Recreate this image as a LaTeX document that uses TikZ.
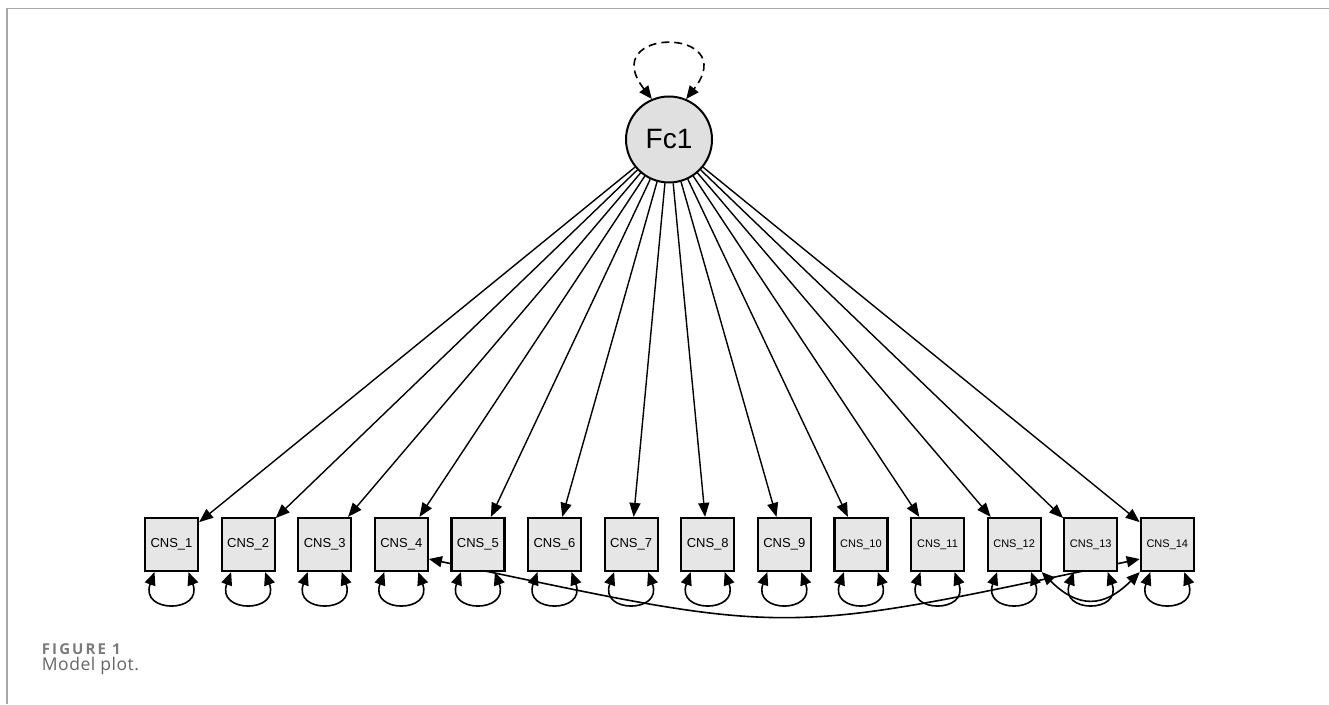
\documentclass[tikz,border=0pt]{standalone}
\usepackage{fontspec}
\setmainfont{Liberation Sans}
\newfontfamily\capfont{Open Sans}
\usetikzlibrary{arrows.meta,calc}
\pgfdeclarelayer{bg}
\pgfsetlayers{bg,main}
\definecolor{latfill}{HTML}{E0E0E0}
\definecolor{obsfill}{HTML}{E6E6E6}
\definecolor{framegray}{HTML}{A8A8A8}
\definecolor{capgrayA}{HTML}{7A7A7A}
\definecolor{capgrayB}{HTML}{666666}
\begin{document}
\begin{tikzpicture}[x=1pt,y=1pt,
  lat/.style={circle,draw,line width=2pt,fill=latfill,minimum size=86pt,inner sep=0pt,font=\fontsize{28}{30}\selectfont},
  obs/.style={rectangle,draw,line width=2.2pt,fill=obsfill,minimum size=53pt,inner sep=0pt,font=\fontsize{13}{15}\selectfont},
  obssmall/.style={obs,font=\fontsize{11}{13}\selectfont},
  loadline/.style={line width=1.4pt,-{Triangle[length=14pt,width=11pt]}},
  var/.style={line width=1.6pt,{Triangle[length=13pt,width=11pt]}-{Triangle[length=13pt,width=11pt]}},
  frameline/.style={draw=framegray,line width=1.5pt},
  caplabel/.style={anchor=base west,inner sep=0pt}
]
\useasboundingbox (0,0) rectangle (1329,704);
\draw[frameline] (7,0) -- (7,695.5) -- (1329,695.5);

\node[lat] (fc) at (669,564.5) {Fc1};
\foreach \i in {1,...,9}
  \node[obs] (b\i) at ({171.5+(\i-1)*76.6},159.5) {CNS\_\i};
\foreach \i in {10,...,14}
  \node[obssmall] (b\i) at ({171.5+(\i-1)*76.6},159.5) {CNS\_\i};

\foreach \i in {1,...,14}
  \draw[loadline] (fc) -- (b\i);

\foreach \i in {1,...,14}
  \draw[var] ($(b\i.south)+(-17,0)$) .. controls +(-110:44) and +(-70:44) .. ($(b\i.south)+(17,0)$);

\draw[var,dash pattern=on 8pt off 5pt] (fc.113) .. controls +(128:92) and +(52:92) .. (fc.67);

\begin{pgfonlayer}{bg}
\draw[var] ($(b4.east)+(0,-14.5)$) .. controls +(-12:372) and +(-168:372) .. ($(b14.west)+(0,-14.5)$);
\end{pgfonlayer}
\draw[var] (b12.south east) .. controls +(-45:51) and +(-135:51) .. (b14.south west);

\node[caplabel,text=capgrayA,font=\capfont\bfseries\fontsize{15}{17}\selectfont\addfontfeature{LetterSpace=14}] (figlabel) at (41.7,50) {FIGURE 1};
\node[caplabel,text=capgrayB,font=\capfont\fontsize{17.5}{20}\selectfont\addfontfeature{LetterSpace=3}] (caption) at (41.7,34) {Model plot.};
\end{tikzpicture}
\end{document}
